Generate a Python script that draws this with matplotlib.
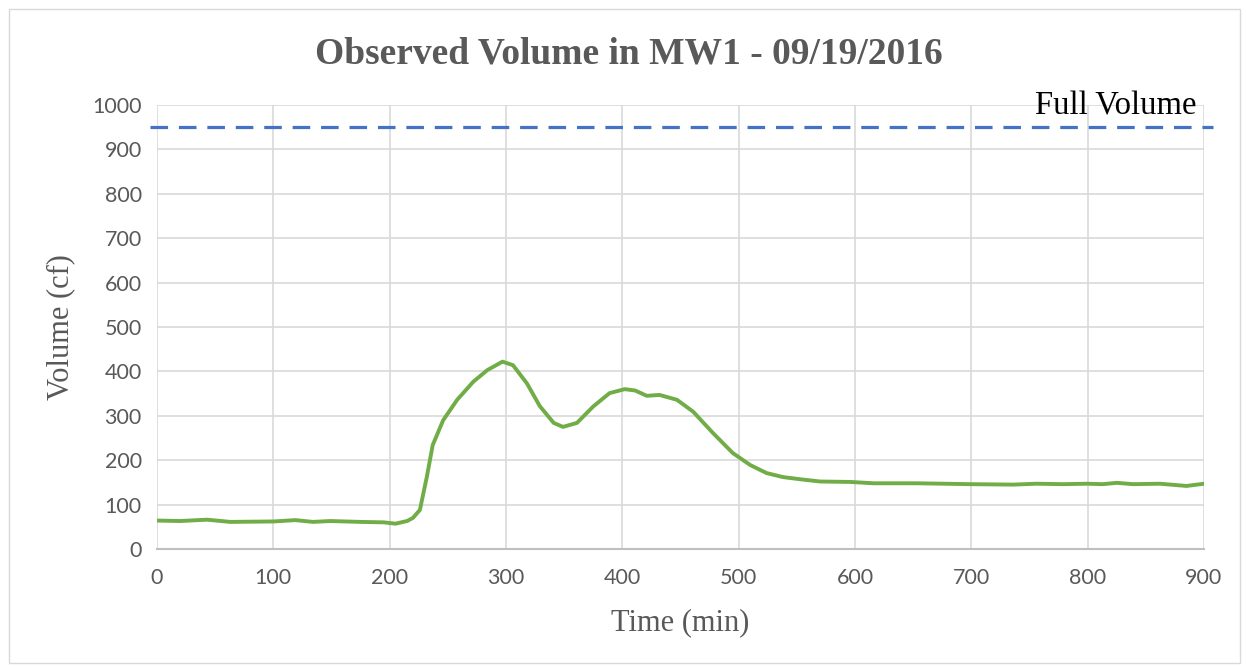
import matplotlib
matplotlib.use('Agg')
import matplotlib.pyplot as plt
from matplotlib.patches import Rectangle

time_min = [0, 20, 43, 63, 100, 119, 134, 149, 175, 195, 205, 215, 220, 226,
            232, 237, 246, 258, 272, 284, 297, 306, 318, 329, 341, 349, 361,
            375, 389, 402, 411, 421, 432, 447, 461, 478, 495, 510, 524, 538,
            553, 570, 596, 616, 653, 699, 736, 756, 779, 799, 813, 825, 839,
            862, 885, 900]
volume_cf = [64, 63, 66, 61, 62, 65, 61, 63, 61, 60, 57, 63, 70, 88,
             163, 234, 290, 336, 377, 403, 422, 414, 373, 322, 284, 275, 284,
             321, 351, 360, 357, 345, 347, 336, 309, 261, 216, 189, 171, 162,
             157, 152, 151, 148, 148, 146, 145, 147, 146, 147, 146, 149, 146,
             147, 142, 147]
full_volume = 950

x_ticks = list(range(0, 901, 100))
y_ticks = list(range(0, 1001, 100))

fig = plt.figure(figsize=(12.47, 6.66), dpi=100)
ax = fig.add_axes([0.1259, 0.1757, 0.8396, 0.6666])

# chart frame
fig.patches.append(Rectangle((0.007, 0.005), 0.987, 0.982, transform=fig.transFigure,
                             fill=False, edgecolor='#d9d9d9', linewidth=1))

ax.plot(time_min, volume_cf, color='#70ad47', linewidth=2.8, solid_capstyle='round',
        solid_joinstyle='round', zorder=3)
ax.plot([-6, 908], [full_volume, full_volume], color='#4472c4', linewidth=2.3,
        dashes=(5.5, 3.4), clip_on=False, zorder=3)
ax.text(900 - 6, full_volume + 12, 'Full Volume', family='Liberation Serif',
        fontsize=23.5, color='black', ha='right', va='bottom')

ax.set_xlim(0, 900)
ax.set_ylim(0, 1000)
ax.set_xticks(x_ticks)
ax.set_yticks(y_ticks)
ax.grid(True, color='#d9d9d9', linewidth=1.2)
ax.set_axisbelow(True)
for s in ['top', 'right', 'left']:
    ax.spines[s].set_visible(False)
ax.spines['bottom'].set_color('#bfbfbf')
ax.spines['bottom'].set_linewidth(1.5)
ax.tick_params(length=0, labelsize=15.5, labelcolor='#595959')
ax.tick_params(axis='x', pad=14)
ax.tick_params(axis='y', pad=11)
for lab in ax.get_xticklabels() + ax.get_yticklabels():
    lab.set_family('Lato')

ax.set_xlabel('Time (min)', family='Liberation Serif', fontsize=22, color='#595959', labelpad=14)
ax.set_ylabel('Volume (cf)', family='Liberation Serif', fontsize=22, color='#595959', labelpad=12)
fig.suptitle('Observed Volume in MW1 - 09/19/2016', family='Liberation Serif', fontsize=27,
             fontweight='bold', color='#595959', x=0.5045, y=0.945)

fig.savefig('out.png', dpi=100, facecolor='white')
